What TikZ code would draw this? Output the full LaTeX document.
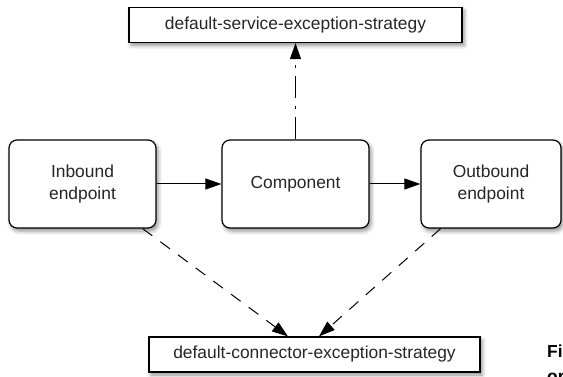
\documentclass[tikz,border=0pt]{standalone}
\usepackage{fontspec}
\setmainfont{Liberation Sans}
\usetikzlibrary{arrows.meta,shadows.blur}
\tikzset{
  shd/.style={blur shadow={shadow xshift=2pt,shadow yshift=-3pt,shadow blur radius=4pt,shadow opacity=45}},
  ep/.style={draw,line width=1.2pt,rounded corners=8pt,fill=white,shd,align=center,
    minimum height=88pt,inner sep=0pt,font=\fontsize{17.4}{22}\selectfont,text=black!85},
  strat/.style={draw,line width=1.2pt,fill=white,shd,minimum height=35pt,inner sep=0pt,
    font=\fontsize{17.4}{22}\selectfont,text=black!85},
  tip/.style={-{Triangle[length=16pt,width=11pt]}},
}
\begin{document}
\begin{tikzpicture}[x=1pt,y=-1pt]
\useasboundingbox (0,0) rectangle (563,377);
\begin{scope}
\clip (0,0) rectangle (563,377);
\node[ep,minimum width=147pt](in) at (82.5,184){Inbound\\endpoint};
\node[ep,minimum width=147pt](comp) at (295.5,184){Component};
\node[ep,minimum width=140pt](out) at (491,184){Outbound\\endpoint};
\node[strat,minimum width=333pt](ses) at (295.5,25){default-service-exception-strategy};
\node[strat,minimum width=331pt](ces) at (314.5,354.5){default-connector-exception-strategy};
\draw[tip,line width=1pt](in)--(comp);
\draw[tip,line width=1pt](comp)--(out);
\draw[tip,line width=1pt,dash pattern=on 22pt off 8pt on 3pt off 8pt](comp)--(ses);
\draw[tip,line width=1pt,dash pattern=on 12pt off 10pt](in)--([xshift=-26.5pt]ces.north);
\draw[tip,line width=1pt,dash pattern=on 12pt off 10pt](out)--([xshift=4.5pt]ces.north);
\node[anchor=base west,inner sep=0pt,font=\fontsize{17.4}{24}\bfseries\selectfont](fig) at (547,357){Fi};
\node[anchor=base west,inner sep=0pt,font=\fontsize{17.4}{24}\bfseries\selectfont](fig2) at (547,382){or};
\end{scope}
\end{tikzpicture}
\end{document}
